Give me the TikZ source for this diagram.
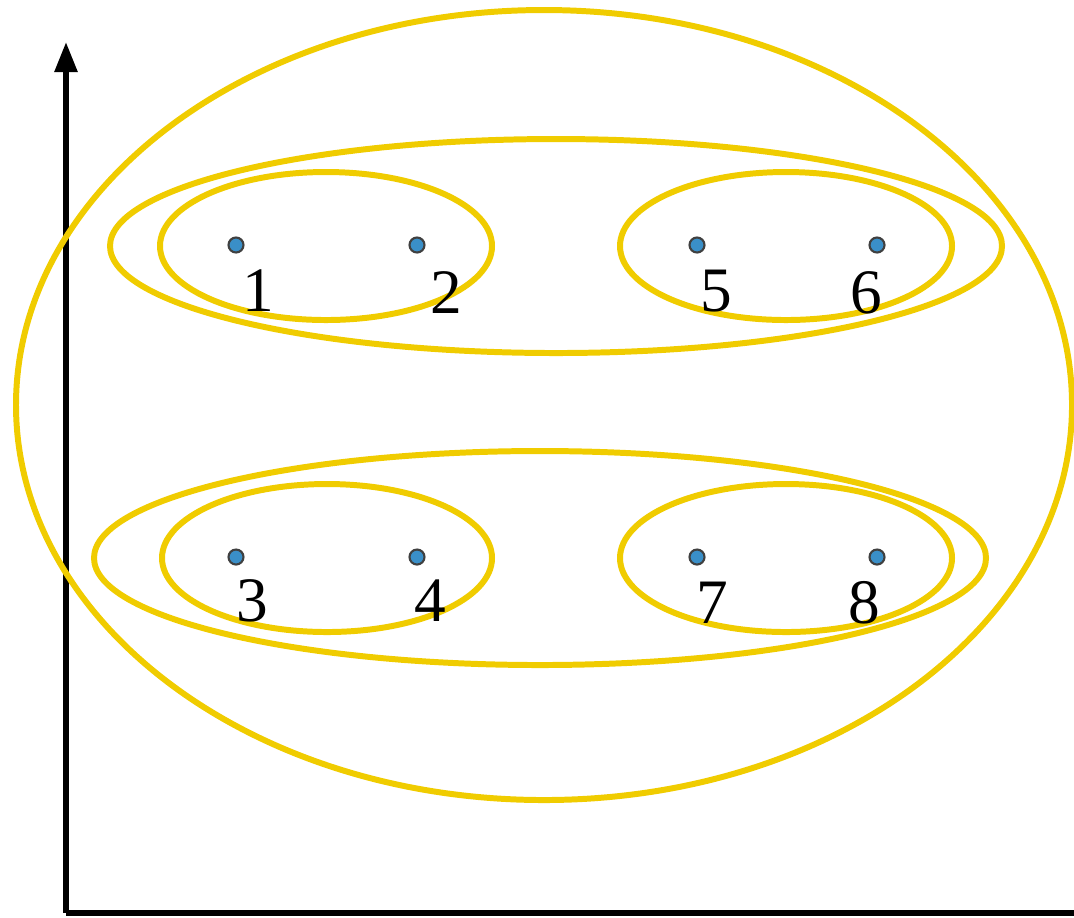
\documentclass[tikz,border=0pt]{standalone}
\usepackage{fontspec}
\setmainfont{Liberation Serif}
\usetikzlibrary{arrows.meta}
\definecolor{ell}{HTML}{F0CC00}
\definecolor{dotc}{HTML}{3A8FC8}
\tikzset{
  ring/.style={draw=ell, line width=1.7pt},
  pt/.style={circle, fill=dotc, draw=black!75, line width=0.6pt, minimum size=0.15cm, inner sep=0pt},
  lbl/.style={font=\fontsize{18}{18}\selectfont, inner sep=0pt},
  axis/.style={line width=1.6pt, black}
}
\begin{document}
\begin{tikzpicture}[x=0.01cm,y=-0.01cm]
\useasboundingbox (0,0) rectangle (1074,917);
% axes
\coordinate (o) at (66,913);
\coordinate (ytop) at (66,42);
\coordinate (xend) at (1074,913);
\draw[axis, -{Triangle[length=0.3cm,width=0.22cm]}] (o) -- (ytop);
\draw[axis] (o) -- (xend);
% ellipses
\draw[ring] (544,405) ellipse [x radius=528, y radius=395];
\draw[ring] (556,246) ellipse [x radius=446, y radius=107];
\draw[ring] (326,246) ellipse [x radius=166, y radius=74];
\draw[ring] (786,246) ellipse [x radius=166, y radius=74];
\draw[ring] (540,558) ellipse [x radius=446, y radius=107];
\draw[ring] (327,558) ellipse [x radius=165, y radius=74];
\draw[ring] (786,558) ellipse [x radius=166, y radius=74];
% points
\node[pt] (p1) at (236,245) {};
\node[pt] (p2) at (417,245) {};
\node[pt] (p5) at (697,245) {};
\node[pt] (p6) at (877,245) {};
\node[pt] (p3) at (236,557) {};
\node[pt] (p4) at (417,557) {};
\node[pt] (p7) at (697,557) {};
\node[pt] (p8) at (877,557) {};
% labels
\node[lbl] (l1) at (258,291) {1};
\node[lbl] (l2) at (446,293) {2};
\node[lbl] (l5) at (716,291) {5};
\node[lbl] (l6) at (866,293) {6};
\node[lbl] (l3) at (252,601) {3};
\node[lbl] (l4) at (430,601) {4};
\node[lbl] (l7) at (712,603) {7};
\node[lbl] (l8) at (864,603) {8};
\end{tikzpicture}
\end{document}
